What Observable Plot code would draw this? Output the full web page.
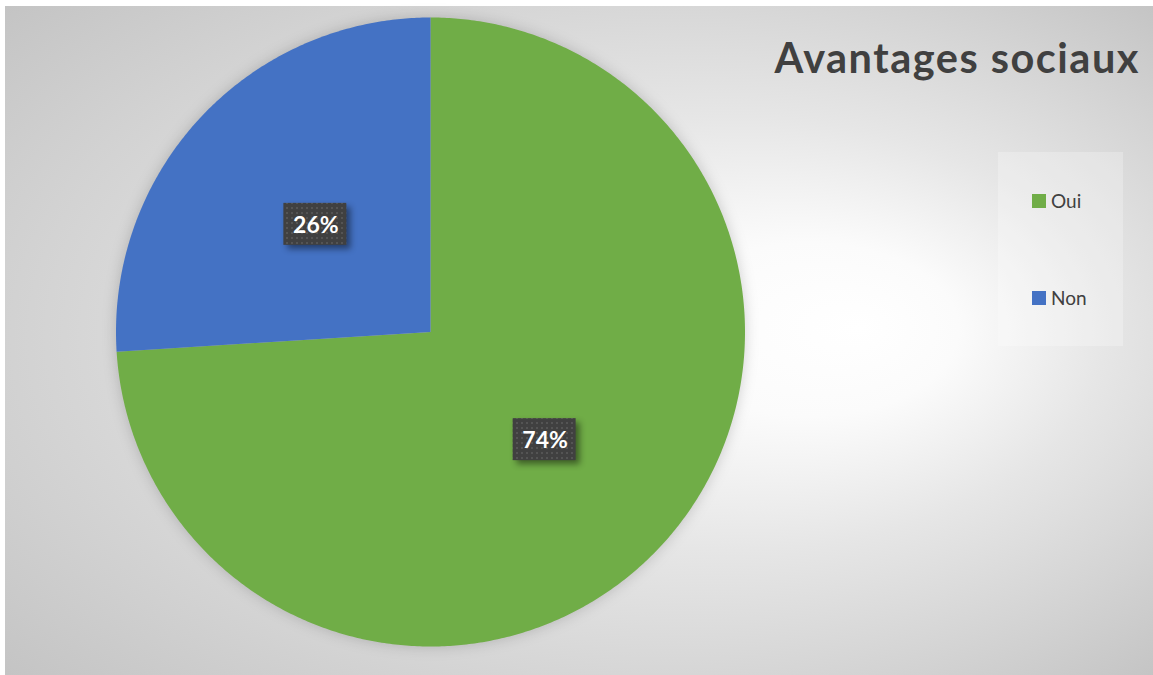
<!DOCTYPE html>
<html>
<head>
<meta charset="utf-8">
<script src="https://cdn.jsdelivr.net/npm/d3@7"></script>
<script src="https://cdn.jsdelivr.net/npm/@observablehq/plot@0.6"></script>
<style>
  html, body { margin: 0; padding: 0; background: #ffffff; }
  #wrap { position: relative; width: 1153px; height: 675px; overflow: hidden; background: #fff; }
  #chart {
    position: absolute; left: 5px; top: 6px; width: 1148px; height: 669px;
    background: #d0d0d0;
  }
  #title {
    position: absolute; right: 13px; top: 32px; line-height: normal;
    font-family: "Lato", "Open Sans", sans-serif; font-weight: 700; font-size: 41.5px;
    color: #404040; white-space: nowrap; letter-spacing: 1.5px;
  }
  #legend {
    position: absolute; left: 998px; top: 152px; width: 125px; height: 194px;
    background: rgba(255,255,255,0.25);
    font-family: "Lato", "Open Sans", sans-serif; font-size: 19px; color: #404040;
  }
  .item { position: absolute; left: 34px; display: flex; align-items: center; }
  .sw { width: 14px; height: 14px; margin-right: 5px; }
  #plot { position: absolute; left: 0; top: 0; }
  .lbl-box { filter: drop-shadow(4px 4px 3px rgba(0,0,0,0.45)); }
  .pie { filter: drop-shadow(0px 0px 7px rgba(0,0,0,0.18)); }
</style>
</head>
<body>
<div id="wrap">
  <div id="chart">
    <div id="plot"></div>
  </div>
  <div id="title">Avantages sociaux</div>
  <div id="legend"></div>
</div>
<script>
// Data
const categories = ["Oui", "Non"];
const values = [74, 26];
const labels = ["74%", "26%"];
const colors = ["#70AD47", "#4472C4"];

// Geometry in unit-circle coordinates (pie angle measured clockwise from 12 o'clock)
const total = d3.sum(values);
const slices = [];
const labelPts = [];
let acc = 0;
categories.forEach((cat, i) => {
  const a0 = acc / total * 2 * Math.PI;
  acc += values[i];
  const a1 = acc / total * 2 * Math.PI;
  slices.push({cat, x: 0, y: 0});
  const n = Math.max(2, Math.ceil((a1 - a0) / (Math.PI / 360)));
  for (let k = 0; k <= n; k++) {
    const a = a0 + (a1 - a0) * k / n;
    slices.push({cat, x: Math.sin(a), y: Math.cos(a)});
  }
  slices.push({cat, x: 0, y: 0});
  const am = (a0 + a1) / 2;
  labelPts.push({cat, label: labels[i], x: 0.5 * Math.sin(am), y: 0.5 * Math.cos(am)});
});

const W = 1148, H = 669, cx = 425, cy = 325.5, R = 314.5;

const plot = Plot.plot({
  width: W, height: H,
  margin: 0,
  style: {background: "transparent", overflow: "visible"},
  x: {domain: [-cx / R, (W - cx) / R], axis: null},
  y: {domain: [-(H - cy) / R, cy / R], axis: null},
  color: {domain: categories, range: colors},
  marks: [
    Plot.line(slices, {x: "x", y: "y", z: "cat", fill: "cat", stroke: "none", curve: "linear", className: "pie"}),
    Plot.rect(labelPts, {
      x1: "x", x2: "x", y1: "y", y2: "y",
      insetLeft: -32, insetRight: -31, insetTop: -21, insetBottom: -21,
      fill: "url(#dotpat)", className: "lbl-box"
    }),
    Plot.text(labelPts, {
      x: "x", y: "y", text: "label", fill: "#ffffff", dy: 1,
      fontSize: 23, fontWeight: 700, fontFamily: "Lato, 'Open Sans', sans-serif"
    })
  ]
});

// defs: pattern for the label boxes and background gradient
const svg = d3.select(plot);
const defs = svg.insert("defs", ":first-child");
const pat = defs.append("pattern").attr("id", "dotpat").attr("patternUnits", "userSpaceOnUse")
  .attr("width", 5).attr("height", 5);
pat.append("rect").attr("width", 5).attr("height", 5).attr("fill", "#404040");
pat.append("rect").attr("x", 1).attr("y", 1).attr("width", 2).attr("height", 2).attr("fill", "#545454");

const grad = defs.append("radialGradient").attr("id", "bggrad")
  .attr("cx", 0.5).attr("cy", 0.5).attr("r", 0.72)
  .attr("fx", 0.745).attr("fy", 0.48);
[[0, "#ffffff"], [0.18, "#fbfbfb"], [0.45, "#e6e6e6"], [0.75, "#d3d3d3"], [1, "#c3c3c3"]]
  .forEach(([o, c]) => grad.append("stop").attr("offset", o).attr("stop-color", c));
svg.insert("rect", "defs + *").attr("width", W).attr("height", H).attr("fill", "url(#bggrad)");
svg.insert("path", "defs + *").attr("d", `M0.5,${H}V0.5H${W}`).attr("fill", "none").attr("stroke", "#c8c8c8");

document.getElementById("plot").appendChild(plot);

// legend
const legend = document.getElementById("legend");
const tops = [37, 134];
categories.forEach((c, i) => {
  const it = document.createElement("div");
  it.className = "item";
  it.style.top = tops[i] + "px";
  it.innerHTML = `<span class="sw" style="background:${colors[i]}"></span><span>${c}</span>`;
  legend.appendChild(it);
});
</script>
</body>
</html>
